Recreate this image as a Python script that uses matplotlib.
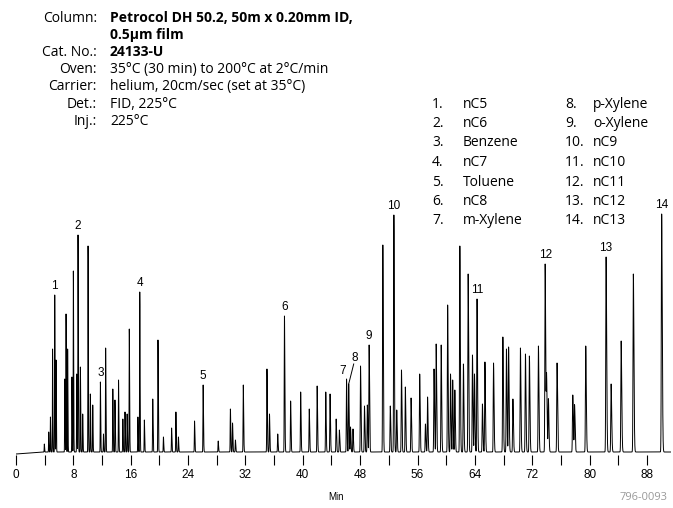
import numpy as np
import matplotlib
matplotlib.use("Agg")
import matplotlib.pyplot as plt

# retention times (min) and peak heights (arbitrary units)
peak_times = [3.95, 4.56, 4.8, 5.1, 5.4, 5.58, 6.8, 6.98, 7.2, 7.8, 8.0, 8.47, 8.65, 8.98, 9.3,
              10.05, 10.37, 10.7, 11.77, 12.2, 12.5, 13.5, 13.8, 14.3, 14.9, 15.2, 15.5, 15.8,
              17.0, 17.26, 17.9, 19.07, 19.8, 20.56, 21.7, 22.3, 22.65, 24.9, 26.1, 28.2,
              29.9, 30.2, 30.6, 31.7, 35.0, 35.35, 36.5, 37.44, 38.3, 39.7, 40.9, 42.0, 43.2,
              43.8, 44.65, 45.1, 46.1, 46.4, 46.65, 47.0, 48.05, 48.6, 49.0, 49.25, 51.16,
              52.2, 52.7, 53.1, 53.76, 54.3, 55.1, 56.3, 57.1, 57.4, 58.3, 58.6, 59.3, 60.2,
              60.6, 60.9, 61.2, 61.9, 62.4, 63.06, 63.66, 63.94, 64.3, 65.05, 65.4, 66.6,
              67.9, 68.4, 68.7, 69.3, 70.35, 71.05, 71.6, 72.86, 73.8, 74.0, 74.25, 75.46,
              77.65, 77.9, 79.46, 82.3, 83.0, 84.4, 86.1, 90.05]
peak_heights = [8, 20, 35, 103, 157, 92, 73, 138, 103, 75, 181, 78, 217, 85, 38,
                206, 58, 47, 70, 18, 104, 63, 52, 72, 33, 40, 38, 123,
                35, 160, 32, 53, 112, 15, 24, 40, 15, 31, 67, 11,
                43, 29, 12, 67, 83, 38, 18, 136, 51, 60, 43, 66, 60,
                58, 33, 22, 73, 68, 25, 23, 86, 46, 47, 107, 207,
                46, 237, 42, 82, 65, 54, 78, 28, 55, 83, 108, 107, 147,
                78, 72, 62, 206, 88, 178, 97, 78, 153, 48, 90, 89,
                115, 103, 105, 53, 104, 98, 96, 106, 188, 73, 53, 89,
                57, 47, 106, 195, 68, 111, 178, 238]

# numbered peaks: label, retention time
labels = ["1", "2", "3", "4", "5", "6", "7", "8", "9", "10", "11", "12", "13", "14"]
label_times = [5.4, 8.65, 11.77, 17.26, 26.1, 37.44, 46.1, 46.4, 49.25, 52.7, 64.3, 73.8, 82.3, 90.05]

compounds = ["nC5", "nC6", "Benzene", "nC7", "Toluene", "nC8", "m-Xylene",
             "p-Xylene", "o-Xylene", "nC9", "nC10", "nC11", "nC12", "nC13"]

header_keys = ["Column:", "", "Cat. No.:", "Oven:", "Carrier:", "Det.:", "Inj.:"]
header_vals = ["Petrocol DH 50.2, 50m x 0.20mm ID,", "0.5\u00b5m film", "24133-U",
               "35\u00b0C (30 min) to 200\u00b0C at 2\u00b0C/min",
               "helium, 20cm/sec (set at 35\u00b0C)", "FID, 225\u00b0C", "225\u00b0C"]
header_bold = [True, True, True, False, False, False, False]

t = np.linspace(0, 91.5, 60000)
y = np.zeros_like(t)
for pt, ph in zip(peak_times, peak_heights):
    s = 0.02 + 0.0003 * pt
    d = t - pt
    sig = np.where(d < 0, s, s * 1.8)
    y += ph * np.exp(-0.5 * (d / sig) ** 2)
# small drift at start
y += np.clip(t / 4.0, 0, 1) * 2

W, H = 673, 508
fig = plt.figure(figsize=(W / 100, H / 100), dpi=100)
ax = fig.add_axes([16 / W, 53 / H, 655 / W, 455 / H])
ax.plot(t, y, color="black", lw=0.7)
ax.set_xlim(0, 655 / 7.17)
ax.set_ylim(-1, 454)
for s in ["top", "right", "left", "bottom"]:
    ax.spines[s].set_visible(False)
ax.set_yticks([])
ax.set_xticks(np.arange(0, 92, 4))
ax.set_xticklabels([str(v) if v % 8 == 0 else "" for v in range(0, 92, 4)],
                   fontsize=8.5, family="Liberation Sans")
ax.tick_params(axis="x", direction="out", length=7, width=0.8, pad=3)

for lab, lt in zip(labels, label_times):
    i = peak_times.index(lt)
    h = peak_heights[i]
    if lab == "7":
        ax.text(lt - 0.1, h + 4, lab, ha="right", va="bottom", fontsize=8.5, family="Liberation Sans")
    elif lab == "8":
        ax.plot([lt, lt + 0.7], [h + 2, h + 22], color="black", lw=0.7)
        ax.text(lt + 0.9, h + 22, lab, ha="center", va="bottom", fontsize=8.5, family="Liberation Sans")
    else:
        ax.text(lt, h + 5, lab, ha="center", va="bottom", fontsize=8.5, family="Liberation Sans")

fig.text(336 / W, 1 - 497 / H, "Min", fontsize=7, ha="center", va="center", family="Liberation Sans")
fig.text(668 / W, 1 - 497 / H, "796-0093", fontsize=8, ha="right", va="center",
         color="#999999", family="Open Sans")

for k, (key, val, b) in enumerate(zip(header_keys, header_vals, header_bold)):
    yy = 1 - (18 + 17.2 * k) / H
    fig.text(97 / W, yy, key, ha="right", va="center", fontsize=10, family="Open Sans")
    fig.text(110 / W, yy, val, ha="left", va="center", fontsize=10, family="Open Sans",
             fontweight="bold" if b else "normal")

for k, name in enumerate(compounds):
    col = k // 7
    row = k % 7
    yy = 1 - (104 + 19.5 * row) / H
    x0 = 432 if col == 0 else 565
    fig.text(x0 / W, yy, f"{k + 1}.", ha="left", va="center", fontsize=10, family="Open Sans")
    fig.text((x0 + 31) / W if col == 0 else (x0 + 28) / W, yy, name, ha="left", va="center",
             fontsize=10, family="Open Sans")

fig.savefig("out.png", dpi=100)
